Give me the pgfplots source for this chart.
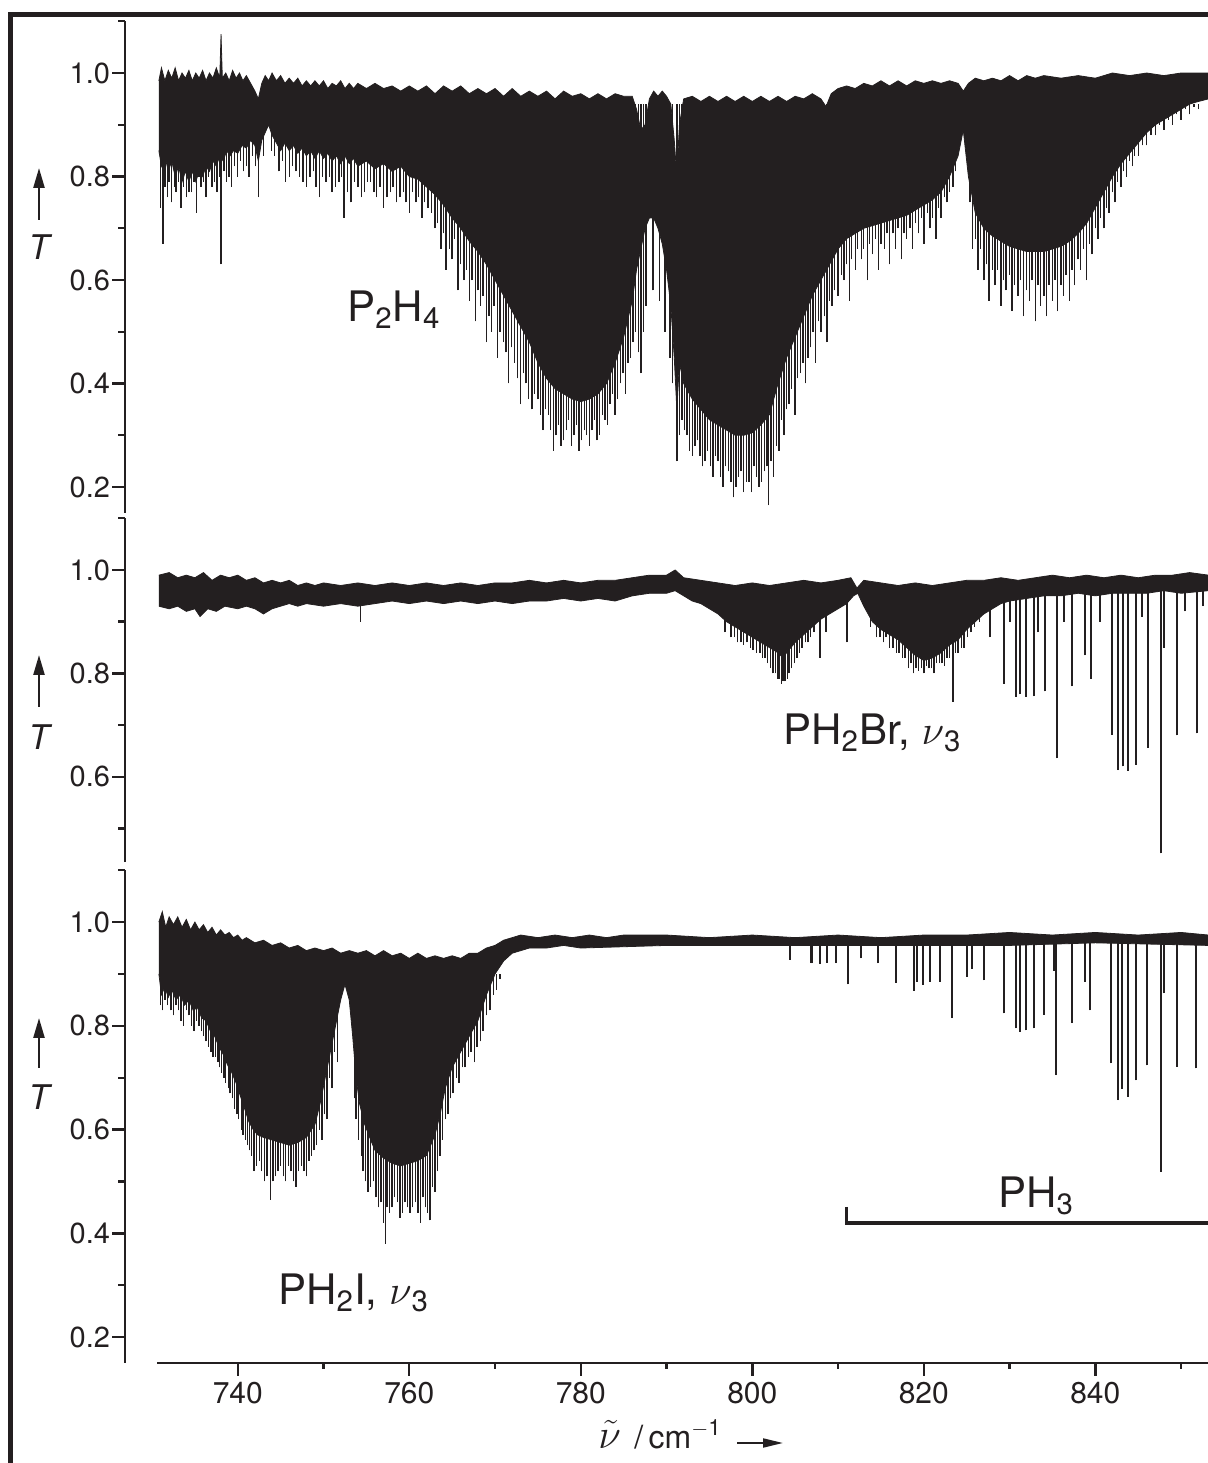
\documentclass[border=0pt]{standalone}
\usepackage{pgfplots}
\pgfplotsset{compat=1.18}
\usepgfplotslibrary{fillbetween}
\usetikzlibrary{arrows.meta}
\usepackage{fontspec}
\setmainfont{TeX Gyre Heros}
\definecolor{ink}{HTML}{231F20}
\begin{document}
\begin{tikzpicture}
\pgfplotsset{
  panel/.style={scale only axis, width=541.5bp, xmin=726.85, xmax=853.14,
    axis x line=none, axis y line*=left,
    axis line style={line width=1.3bp, draw=ink},
    tick align=outside, major tick length=6.5bp, minor tick length=3.5bp,
    tick style={line width=1.2bp, draw=ink},
    /pgf/number format/assume math mode=true,
    /pgf/number format/fixed, /pgf/number format/fixed zerofill,
    /pgf/number format/precision=1,
    yticklabel style={font=\fontsize{14.5bp}{17bp}\selectfont, text=ink, xshift=2.5bp}},
  bnd/.style={draw=ink, line width=0.4bp},
  spk/.style={only marks, mark=*, mark size=0pt, mark options={draw=none, fill=none},
    error bars/.cd, y dir=plus, y explicit,
    error mark=none, error bar style={line width=#1, draw=ink}},
  spk/.default=0.7bp,
}
% ---------------- Panel 1: P2H4 ----------------
\begin{axis}[panel, at={(62.5bp,475.06bp)}, height=245.8bp, ymin=0.15, ymax=1.1,
  ytick={0.2,0.4,0.6,0.8,1.0}, minor ytick={0.3,0.5,0.7,0.9,1.1}]
\addplot[bnd, name path=pau] table[x=x,y=y] {
x y
730.8 0.985
731.1 1.01
731.5 0.985
731.9 1.005
732.3 0.99
732.7 1.01
733.1 0.985
733.5 1.0
733.9 0.99
734.3 1.005
734.7 0.985
735.1 1.0
735.5 0.99
735.9 1.005
736.3 0.985
736.7 1.0
737.1 0.99
737.5 1.01
737.9 0.99
738.05 1.075
738.2 0.99
738.6 1.0
739.0 0.985
739.4 1.005
739.8 0.99
740.2 1.0
740.6 0.985
741.0 0.995
741.5 0.98
742.0 0.965
742.4 0.95
742.8 0.98
743.2 0.995
743.6 0.985
744.0 1.0
744.5 0.985
745.0 0.995
745.5 0.98
746.0 0.99
746.5 0.98
747.0 0.99
747.5 0.975
748.0 0.985
748.5 0.975
749.0 0.985
749.5 0.975
750.0 0.985
750.5 0.97
751.0 0.98
751.5 0.975
752.0 0.985
752.5 0.97
753.0 0.98
753.5 0.97
754.0 0.98
755.0 0.97
756.0 0.98
757.0 0.97
758.0 0.975
759.0 0.965
760.0 0.975
761.0 0.965
762.0 0.975
763.0 0.96
764.0 0.975
765.0 0.965
766.0 0.975
767.0 0.96
768.0 0.97
769.0 0.96
770.0 0.97
771.0 0.955
772.0 0.97
773.0 0.955
774.0 0.965
775.0 0.955
776.0 0.965
777.0 0.95
778.0 0.965
779.0 0.955
780.0 0.96
781.0 0.95
782.0 0.96
783.0 0.95
784.0 0.96
785.0 0.955
786.0 0.955
786.5 0.93
787.0 0.89
787.5 0.90
788.0 0.95
788.5 0.965
789.0 0.955
789.5 0.965
790.0 0.955
790.5 0.94
790.9 0.87
791.2 0.80
791.5 0.90
792.0 0.95
793.0 0.955
794.0 0.945
795.0 0.955
796.0 0.945
797.0 0.955
798.0 0.945
799.0 0.955
800.0 0.945
801.0 0.955
802.0 0.945
803.0 0.955
804.0 0.945
805.0 0.955
806.0 0.95
807.0 0.96
808.0 0.95
808.6 0.935
809.2 0.96
810.0 0.97
811.0 0.975
812.0 0.97
813.0 0.98
814.0 0.975
815.0 0.985
816.0 0.975
817.0 0.985
818.0 0.975
819.0 0.985
820.0 0.98
821.0 0.985
822.0 0.98
823.0 0.985
824.0 0.98
824.6 0.965
825.2 0.98
826.0 0.99
827.0 0.985
828.0 0.99
829.0 0.985
830.0 0.995
831.0 0.985
832.0 0.995
833.0 0.99
834.0 0.995
836.0 0.99
838.0 0.995
840.0 0.99
842.0 1.0
844.0 0.995
846.0 1.0
848.0 0.995
850.0 1.0
853.2 1.0
};
\addplot[bnd, name path=pal] table[x=x,y=y] {
x y
730.8 0.85
731.1 0.82
731.5 0.84
731.9 0.81
732.3 0.83
732.7 0.80
733.1 0.82
733.5 0.79
733.9 0.81
734.3 0.79
734.7 0.81
735.1 0.79
735.5 0.81
735.9 0.80
736.3 0.82
736.7 0.81
737.1 0.83
737.5 0.82
737.9 0.84
738.3 0.83
738.7 0.85
739.1 0.84
739.5 0.85
740.0 0.845
740.5 0.86
741.0 0.855
741.5 0.87
742.0 0.86
742.4 0.83
742.8 0.87
743.2 0.885
743.6 0.90
744.0 0.88
744.5 0.865
745.0 0.85
745.5 0.865
746.0 0.85
746.5 0.86
747.0 0.845
747.5 0.855
748.0 0.84
748.5 0.85
749.0 0.835
749.5 0.85
750.0 0.835
750.5 0.845
751.0 0.83
751.5 0.84
752.0 0.825
752.5 0.84
753.0 0.825
753.5 0.835
754.0 0.82
755.0 0.83
756.0 0.815
757.0 0.825
758.0 0.81
759.0 0.82
760.0 0.80
761.0 0.795
762.0 0.78
763.0 0.765
764.0 0.745
765.0 0.72
766.0 0.70
767.0 0.675
768.0 0.655
769.0 0.63
770.0 0.60
771.0 0.57
772.0 0.54
773.0 0.51
774.0 0.48
775.0 0.44
776.0 0.41
777.0 0.39
778.0 0.38
779.0 0.37
780.0 0.365
781.0 0.37
782.0 0.38
783.0 0.40
784.0 0.44
785.0 0.49
786.0 0.56
786.5 0.62
787.0 0.66
787.5 0.70
788.0 0.72
788.5 0.72
789.0 0.70
789.5 0.67
790.0 0.62
790.5 0.55
790.9 0.45
791.2 0.35
791.5 0.44
792.0 0.40
793.0 0.37
794.0 0.35
795.0 0.33
796.0 0.32
797.0 0.31
798.0 0.30
799.0 0.30
800.0 0.305
801.0 0.32
802.0 0.34
803.0 0.40
804.0 0.45
805.0 0.49
806.0 0.53
807.0 0.57
808.0 0.60
809.0 0.63
810.0 0.66
811.0 0.68
812.0 0.69
813.0 0.70
814.0 0.705
815.0 0.71
816.0 0.715
817.0 0.72
818.0 0.725
819.0 0.735
820.0 0.745
821.0 0.755
822.0 0.77
823.0 0.80
824.0 0.84
824.6 0.89
825.2 0.80
826.0 0.73
827.0 0.70
828.0 0.685
829.0 0.675
830.0 0.665
831.0 0.66
832.0 0.655
833.0 0.655
834.0 0.655
835.0 0.66
836.0 0.665
837.0 0.675
838.0 0.69
839.0 0.71
840.0 0.74
841.0 0.77
842.0 0.80
843.0 0.825
844.0 0.845
845.0 0.865
846.0 0.885
847.0 0.90
848.0 0.91
849.0 0.92
850.0 0.93
851.0 0.94
852.0 0.945
853.2 0.95
};
\addplot[fill=ink, draw=none] fill between[of=pau and pal];
\addplot[spk] table[x=x, y=y, y error expr={0.94-\thisrow{y}}] {
x y
731.0 0.74
731.3 0.67
731.5 0.78
731.8 0.76
732.0 0.79
732.3 0.75
732.6 0.78
732.8 0.77
733.1 0.79
733.4 0.74
733.7 0.78
734.0 0.76
734.3 0.77
734.6 0.77
734.9 0.79
735.2 0.73
735.5 0.80
735.7 0.78
736.0 0.79
736.3 0.76
736.6 0.80
737.0 0.78
737.3 0.79
737.6 0.77
737.9 0.80
738.05 0.63
738.4 0.81
738.7 0.79
739.0 0.80
739.3 0.78
739.6 0.82
740.0 0.80
740.3 0.83
740.7 0.81
741.0 0.82
741.3 0.80
741.7 0.84
742.1 0.82
742.4 0.76
743.0 0.84
743.9 0.85
744.3 0.84
744.8 0.81
745.2 0.83
745.6 0.79
746.0 0.80
746.4 0.82
746.8 0.81
747.2 0.80
747.6 0.79
748.0 0.78
748.4 0.80
748.8 0.81
749.1 0.78
749.5 0.76
749.9 0.80
750.3 0.79
750.7 0.80
751.0 0.77
751.4 0.78
751.8 0.79
752.1 0.80
752.4 0.72
752.8 0.77
753.2 0.75
753.6 0.79
754.0 0.78
754.4 0.76
754.8 0.77
755.1 0.79
755.5 0.79
755.9 0.77
756.2 0.76
756.6 0.78
757.0 0.74
757.4 0.76
757.8 0.77
758.1 0.78
758.5 0.75
758.9 0.76
759.3 0.77
759.6 0.75
760.0 0.73
760.4 0.77
760.8 0.75
761.1 0.76
761.5 0.72
761.8 0.75
762.2 0.74
762.6 0.73
763.0 0.70
763.3 0.71
763.7 0.66
764.0 0.69
764.3 0.62
764.7 0.66
765.0 0.64
765.3 0.68
765.7 0.58
766.0 0.63
766.4 0.60
766.7 0.62
767.0 0.56
767.3 0.60
767.7 0.52
768.0 0.58
768.3 0.55
768.6 0.57
769.0 0.48
769.3 0.53
769.6 0.50
769.9 0.55
770.3 0.45
770.6 0.50
771.0 0.48
771.3 0.46
771.6 0.40
771.9 0.47
772.3 0.44
772.6 0.41
773.0 0.36
773.3 0.42
773.6 0.40
773.9 0.37
774.3 0.35
774.6 0.38
775.0 0.37
775.3 0.34
775.6 0.31
775.9 0.35
776.2 0.34
776.5 0.31
776.8 0.27
777.1 0.30
777.4 0.32
777.7 0.28
778.0 0.29
778.3 0.31
778.6 0.33
778.9 0.28
779.2 0.30
779.5 0.32
779.8 0.27
780.1 0.29
780.4 0.31
780.7 0.30
781.0 0.28
781.3 0.31
781.6 0.33
781.9 0.29
782.2 0.30
782.5 0.34
782.8 0.33
783.1 0.32
783.4 0.36
783.7 0.38
784.0 0.34
784.3 0.37
784.6 0.40
784.9 0.42
785.2 0.38
785.5 0.44
785.8 0.45
786.1 0.48
786.4 0.50
786.7 0.46
787.0 0.42
787.3 0.50
787.6 0.55
788.4 0.58
789.2 0.56
789.8 0.50
790.4 0.45
790.7 0.40
791.2 0.25
791.5 0.30
791.8 0.33
792.1 0.31
792.4 0.30
792.7 0.27
793.0 0.26
793.3 0.28
793.6 0.29
793.9 0.26
794.2 0.24
794.5 0.25
794.8 0.27
795.1 0.24
795.4 0.22
795.7 0.26
796.0 0.25
796.3 0.22
796.6 0.20
796.9 0.24
797.2 0.23
797.5 0.21
797.8 0.18
798.1 0.20
798.4 0.22
798.7 0.23
799.0 0.19
799.3 0.21
799.6 0.21
799.9 0.19
800.2 0.24
800.5 0.22
800.8 0.20
801.1 0.21
801.4 0.23
801.7 0.24
801.9 0.165
802.2 0.25
802.5 0.22
802.8 0.28
803.1 0.27
803.4 0.33
803.7 0.30
804.0 0.35
804.3 0.36
804.6 0.39
805.0 0.34
805.3 0.41
805.6 0.42
805.9 0.44
806.2 0.40
806.5 0.45
806.8 0.47
807.1 0.50
807.4 0.44
807.7 0.52
808.0 0.50
808.4 0.53
808.7 0.48
809.0 0.56
809.3 0.55
809.6 0.58
810.0 0.57
810.4 0.61
810.7 0.60
811.0 0.63
811.3 0.56
811.6 0.64
812.0 0.62
812.3 0.66
812.7 0.64
813.0 0.66
813.4 0.60
813.7 0.67
814.0 0.65
814.4 0.68
814.7 0.62
815.0 0.67
815.4 0.66
815.7 0.69
816.0 0.63
816.4 0.69
816.7 0.66
817.0 0.70
817.4 0.64
817.7 0.69
818.0 0.68
818.4 0.70
818.7 0.66
819.0 0.71
819.4 0.69
819.7 0.72
820.0 0.67
820.4 0.73
820.7 0.70
821.0 0.72
821.4 0.68
821.7 0.74
822.0 0.72
822.4 0.76
822.7 0.75
823.0 0.77
823.4 0.78
823.7 0.81
825.4 0.75
825.7 0.66
826.0 0.68
826.3 0.62
826.6 0.66
827.0 0.60
827.3 0.63
827.6 0.56
828.0 0.62
828.3 0.59
828.6 0.62
829.0 0.55
829.3 0.60
829.6 0.58
830.0 0.61
830.3 0.54
830.6 0.59
831.0 0.57
831.3 0.60
831.6 0.53
832.0 0.58
832.3 0.56
832.6 0.60
833.0 0.52
833.3 0.59
833.6 0.55
834.0 0.57
834.3 0.53
834.6 0.59
835.0 0.56
835.3 0.60
835.6 0.54
836.0 0.59
836.3 0.57
836.6 0.61
837.0 0.56
837.3 0.62
837.6 0.59
838.0 0.64
838.3 0.62
838.6 0.66
839.0 0.60
839.3 0.67
839.6 0.65
840.0 0.70
840.3 0.68
840.6 0.72
841.0 0.70
841.3 0.74
841.6 0.73
842.0 0.77
842.3 0.75
842.6 0.79
843.0 0.78
843.3 0.81
843.6 0.80
844.0 0.83
844.3 0.82
844.6 0.84
845.0 0.84
845.5 0.86
846.0 0.86
846.5 0.88
847.0 0.88
847.5 0.90
848.0 0.89
848.5 0.91
849.0 0.90
849.5 0.92
850.0 0.91
850.5 0.93
851.0 0.92
851.5 0.935
852.0 0.93
};
\end{axis}
% ---------------- Panel 2: PH2Br ----------------
\begin{axis}[panel, at={(62.5bp,300.45bp)}, height=171.9bp, ymin=0.435, ymax=1.1,
  ytick={0.6,0.8,1.0}, minor ytick={0.5,0.7,0.9,1.1}]
\addplot[bnd, name path=pbu] table[x=x,y=y] {
x y
730.8 0.99
732 0.995
733 0.985
734 0.99
735 0.985
736 0.995
737 0.98
738 0.99
739 0.985
740 0.99
741 0.98
742 0.985
743 0.975
744 0.98
745 0.975
746 0.98
747 0.97
748 0.975
749 0.97
750 0.975
752 0.97
754 0.975
756 0.97
758 0.975
760 0.97
762 0.975
764 0.97
766 0.975
768 0.97
770 0.975
772 0.975
774 0.98
776 0.975
778 0.98
780 0.975
782 0.98
784 0.98
786 0.985
788 0.99
790 0.99
791 1.0
792 0.985
794 0.98
796 0.975
798 0.97
800 0.975
802 0.97
804 0.975
806 0.98
808 0.975
810 0.98
811.5 0.985
812.2 0.965
813 0.98
815 0.975
817 0.97
819 0.975
821 0.97
823 0.975
825 0.98
827 0.98
829 0.985
831 0.98
833 0.985
835 0.99
837 0.985
839 0.99
841 0.985
843 0.99
845 0.985
847 0.99
849 0.99
851 0.995
853.2 0.99
};
\addplot[bnd, name path=pbl] table[x=x,y=y] {
x y
730.8 0.93
732 0.925
733 0.93
734 0.92
735 0.925
735.6 0.91
736.5 0.925
737.5 0.92
738.5 0.93
740 0.925
741 0.93
742 0.925
743 0.915
744 0.925
745 0.93
746 0.935
747 0.93
748 0.935
750 0.93
752 0.935
754 0.93
756 0.935
758 0.94
760 0.935
762 0.94
764 0.935
766 0.94
768 0.935
770 0.94
772 0.935
774 0.94
776 0.94
778 0.945
780 0.94
782 0.945
784 0.94
786 0.95
788 0.955
790 0.955
791 0.96
792 0.95
793 0.94
794 0.935
795 0.925
796 0.915
797 0.90
798 0.89
799 0.88
800 0.87
801 0.86
802 0.85
803 0.84
803.6 0.83
804 0.84
805 0.86
806 0.875
807 0.89
808 0.905
809 0.915
810 0.925
811 0.935
811.8 0.95
812.3 0.955
813 0.93
814 0.90
815 0.885
816 0.875
817 0.865
818 0.85
819 0.835
820 0.825
821 0.83
822 0.84
823 0.855
824 0.865
825 0.885
826 0.90
827 0.915
828 0.925
829 0.935
830 0.94
832 0.945
834 0.95
836 0.95
838 0.955
840 0.95
842 0.955
844 0.955
846 0.955
848 0.96
850 0.955
853.2 0.96
};
\addplot[fill=ink, draw=none] fill between[of=pbu and pbl];
\addplot[spk] table[x=x, y=y, y error expr={0.965-\thisrow{y}}] {
x y
754.3 0.90
796.8 0.88
797.5 0.87
797.9 0.87
798.3 0.86
798.7 0.86
799.0 0.855
799.4 0.86
799.8 0.85
800.1 0.845
800.5 0.84
800.9 0.84
801.2 0.83
801.5 0.83
801.8 0.82
802.1 0.81
802.4 0.80
802.7 0.80
803.0 0.79
803.2 0.79
803.4 0.78
803.6 0.785
803.8 0.785
804.1 0.79
804.3 0.80
804.6 0.81
804.9 0.82
805.2 0.83
805.5 0.84
805.8 0.85
806.2 0.86
806.5 0.86
806.8 0.87
807.2 0.88
808.6 0.88
813.8 0.89
814.5 0.87
814.9 0.87
815.3 0.86
815.6 0.87
816.0 0.85
816.4 0.85
816.8 0.84
817.1 0.84
817.5 0.83
817.8 0.83
818.2 0.81
818.5 0.82
818.8 0.80
819.1 0.81
819.4 0.805
819.7 0.81
820.0 0.80
820.3 0.815
820.6 0.81
820.9 0.81
821.2 0.80
821.5 0.82
821.8 0.82
822.1 0.82
822.4 0.815
822.7 0.83
823.0 0.83
823.7 0.84
824.0 0.84
824.4 0.85
824.7 0.85
825.1 0.87
825.5 0.88
825.9 0.89
826.5 0.90
};
\addplot[spk=1bp] table[x=x, y=y, y error expr={0.965-\thisrow{y}}] {
x y
807.9 0.83
811.1 0.86
823.4 0.745
827.7 0.87
829.4 0.78
830.0 0.90
830.75 0.755
831.2 0.76
831.9 0.755
832.8 0.756
833.3 0.88
834.1 0.765
835.5 0.636
836.3 0.90
837.3 0.775
838.8 0.835
839.5 0.79
840.5 0.90
841.9 0.681
842.7 0.613
843.2 0.62
843.8 0.612
844.8 0.623
845.5 0.91
846.1 0.656
847.6 0.452
848.0 0.85
849.5 0.68
850.5 0.92
851.8 0.684
852.6 0.93
};
\end{axis}
% ---------------- Panel 3: PH2I ----------------
\begin{axis}[panel, at={(62.5bp,50bp)}, height=246.4bp, ymin=0.15, ymax=1.1,
  ytick={0.2,0.4,0.6,0.8,1.0}, minor ytick={0.3,0.5,0.7,0.9,1.1}]
\addplot[bnd, name path=pcu] table[x=x,y=y] {
x y
730.8 1.0
731.2 1.02
731.6 0.99
732.0 1.01
732.5 0.995
733.0 1.01
733.5 0.99
734.0 1.005
734.5 0.985
735.0 1.0
735.5 0.985
736.0 0.995
736.5 0.98
737.0 0.99
737.5 0.975
738.0 0.985
738.5 0.975
739.0 0.98
739.5 0.97
740.0 0.975
740.5 0.965
741.0 0.97
742.0 0.96
743.0 0.965
744.0 0.955
745.0 0.96
746.0 0.95
747.0 0.955
748.0 0.945
749.0 0.95
750.0 0.945
751.0 0.95
752.0 0.94
753.0 0.945
754.0 0.94
755.0 0.945
756.0 0.935
757.0 0.945
758.0 0.935
759.0 0.94
760.0 0.93
761.0 0.94
762.0 0.93
763.0 0.935
764.0 0.93
765.0 0.935
766.0 0.93
767.0 0.94
768.0 0.94
769.0 0.95
770.0 0.955
771.0 0.965
772.0 0.97
773.0 0.975
775.0 0.97
777.0 0.975
779.0 0.97
781.0 0.975
783.0 0.97
785.0 0.975
790 0.975
795 0.97
800 0.975
805 0.97
810 0.975
815 0.97
820 0.975
825 0.975
830 0.98
835 0.975
840 0.98
845 0.975
850 0.98
853.2 0.975
};
\addplot[bnd, name path=pcl] table[x=x,y=y] {
x y
730.8 0.90
731.1 0.86
731.5 0.875
731.9 0.855
732.3 0.87
732.8 0.85
733.3 0.86
733.8 0.84
734.3 0.85
734.8 0.83
735.3 0.835
735.8 0.815
736.3 0.81
736.8 0.79
737.3 0.78
737.8 0.76
738.3 0.745
738.8 0.725
739.3 0.71
739.8 0.69
740.3 0.665
740.8 0.64
741.3 0.615
741.8 0.60
742.3 0.59
743.0 0.585
744.0 0.58
745.0 0.575
746.0 0.57
747.0 0.575
748.0 0.585
749.0 0.61
749.6 0.65
750.2 0.70
750.8 0.75
751.4 0.80
752.0 0.85
752.5 0.88
753.0 0.85
753.4 0.78
753.8 0.70
754.2 0.65
754.8 0.61
755.5 0.58
756.0 0.56
757.0 0.545
758.0 0.535
759.0 0.53
760.0 0.535
761.0 0.54
762.0 0.55
763.0 0.59
763.6 0.63
764.2 0.68
765.0 0.72
766.0 0.75
767.0 0.78
768.0 0.81
769.0 0.86
770.0 0.90
771.0 0.925
772.0 0.94
773.0 0.945
774.0 0.95
776.0 0.95
778.0 0.955
780.0 0.95
790.0 0.955
800.0 0.955
810.0 0.955
820.0 0.955
830.0 0.955
840.0 0.96
853.2 0.955
};
\addplot[fill=ink, draw=none] fill between[of=pcu and pcl];
\addplot[spk] table[x=x, y=y, y error expr={0.90-\thisrow{y}}] {
x y
731.0 0.84
731.2 0.83
731.5 0.85
731.8 0.84
732.2 0.83
732.5 0.82
732.8 0.84
733.1 0.83
733.4 0.81
733.7 0.80
734.0 0.83
734.3 0.82
734.6 0.80
734.9 0.79
735.2 0.81
735.5 0.80
735.8 0.79
736.0 0.78
736.3 0.77
736.6 0.76
736.9 0.75
737.1 0.74
737.4 0.74
737.7 0.73
737.9 0.72
738.1 0.71
738.4 0.70
738.6 0.69
738.9 0.68
739.1 0.67
739.4 0.66
739.6 0.64
739.9 0.63
740.1 0.62
740.4 0.60
740.6 0.59
740.9 0.58
741.1 0.57
741.4 0.56
741.6 0.55
741.9 0.52
742.2 0.53
742.5 0.54
742.8 0.52
743.1 0.50
743.4 0.51
743.8 0.465
744.1 0.50
744.4 0.51
744.7 0.52
745.0 0.53
745.3 0.51
745.6 0.50
745.9 0.53
746.2 0.52
746.5 0.50
746.8 0.49
747.1 0.52
747.4 0.53
747.7 0.52
748.0 0.51
748.3 0.54
748.6 0.55
748.9 0.56
749.2 0.57
749.5 0.60
749.8 0.58
750.1 0.63
750.4 0.62
750.7 0.70
751.0 0.68
751.3 0.75
751.6 0.73
753.6 0.66
753.8 0.62
754.1 0.58
754.4 0.55
754.6 0.52
754.9 0.50
755.2 0.48
755.5 0.49
755.8 0.50
756.1 0.47
756.4 0.45
756.7 0.46
757.0 0.42
757.2 0.38
757.4 0.45
757.7 0.44
758.0 0.45
758.3 0.47
758.6 0.46
758.9 0.43
759.2 0.44
759.5 0.46
759.8 0.45
760.1 0.44
760.4 0.45
760.7 0.46
761.0 0.44
761.3 0.42
761.6 0.47
761.9 0.45
762.1 0.44
762.4 0.425
762.7 0.49
763.0 0.48
763.3 0.52
763.6 0.55
763.9 0.58
764.2 0.62
764.5 0.63
764.8 0.66
765.1 0.67
765.5 0.70
765.8 0.69
766.2 0.72
766.5 0.72
766.9 0.74
767.2 0.75
767.6 0.73
767.9 0.76
768.3 0.77
768.6 0.79
769.0 0.82
769.4 0.83
769.8 0.86
770.2 0.87
770.6 0.89
};
\addplot[spk=1bp] table[x=x, y=y, y error expr={0.96-\thisrow{y}}] {
x y
804.4 0.927
806.9 0.921
807.0 0.921
807.9 0.919
808.7 0.922
809.8 0.921
811.2 0.88
812.7 0.93
814.6 0.921
816.8 0.883
818.9 0.868
819.2 0.885
819.9 0.879
820.7 0.885
821.9 0.885
823.3 0.815
825.0 0.895
825.6 0.91
827.0 0.888
829.35 0.824
830.75 0.795
831.2 0.789
831.9 0.791
832.8 0.795
834.0 0.821
835.2 0.906
835.45 0.705
837.3 0.805
838.8 0.885
839.4 0.83
841.8 0.728
842.7 0.657
843.15 0.679
843.85 0.663
844.8 0.695
846.0 0.724
847.6 0.519
848.0 0.863
849.5 0.721
851.7 0.718
};
\end{axis}
% ---------------- bottom x axis ----------------
\begin{axis}[scale only axis, at={(78.5bp,50bp)}, width=525.5bp, height=20bp,
  xmin=730.58, xmax=853.14, ymin=0, ymax=1,
  axis y line=none, axis x line*=bottom,
  axis line style={line width=1.4bp, draw=ink},
  xtick={740,760,780,800,820,840}, minor xtick={750,770,790,810,830,850},
  tick align=outside, major tick length=6.3bp, minor tick length=3bp,
  tick style={line width=1.2bp, draw=ink},
  /pgf/number format/assume math mode=true,
  /pgf/number format/set thousands separator={},
  xticklabel style={font=\fontsize{15bp}{18bp}\selectfont, text=ink}]
\addplot[draw=none] coordinates {(740,0.5) (840,0.5)};
\end{axis}
% ---------------- frame, labels, arrows ----------------
\draw[line width=2.5bp, ink] (5.4bp,-10bp) -- (5.4bp,724.3bp) -- (620bp,724.3bp);
\draw[line width=1.6bp, ink] (423.35bp,128bp) -- (423.35bp,120bp) -- (620bp,120bp);
\node[anchor=base west, inner sep=0pt, text=ink, font=\fontsize{21bp}{25bp}\selectfont] at (173.5bp,570.5bp) {P\textsubscript{2}H\textsubscript{4}};
\node[anchor=base west, inner sep=0pt, text=ink, font=\fontsize{21bp}{25bp}\selectfont] at (391.5bp,359bp) {PH\textsubscript{2}Br, $\nu$\textsubscript{3}};
\node[anchor=base west, inner sep=0pt, text=ink, font=\fontsize{21bp}{25bp}\selectfont] at (139bp,79bp) {PH\textsubscript{2}I, $\nu$\textsubscript{3}};
\node[anchor=base west, inner sep=0pt, text=ink, font=\fontsize{21bp}{25bp}\selectfont] at (499bp,127.5bp) {PH\textsubscript{3}};
\foreach \ya/\yb/\yt in {621.5/647.5/601.5, 378/404/356.5, 197.5/222.5/176.5}{
  \draw[line width=1.2bp, ink, -{Triangle[length=10bp,width=5.5bp]}] (19.5bp,\ya bp) -- (19.5bp,\yb bp);
  \node[anchor=base, inner sep=0pt, text=ink, font=\fontsize{17bp}{20bp}\selectfont\itshape] at (19.5bp,\yt bp) {T};
}
\node[anchor=base west, inner sep=0pt, text=ink, font=\fontsize{19bp}{22bp}\selectfont] at (299bp,7.5bp) {$\tilde{\nu}$};
\node[anchor=base west, inner sep=0pt, text=ink, font=\fontsize{16bp}{19bp}\selectfont] at (317bp,7.5bp) {/\,cm\textsuperscript{$-$1}};
\draw[line width=1bp, ink, -{Triangle[length=10bp,width=4.5bp]}] (368.5bp,10bp) -- (391.5bp,10bp);
\pgfresetboundingbox
\useasboundingbox (0,0) rectangle (604bp,731.5bp);
\end{tikzpicture}
\end{document}
